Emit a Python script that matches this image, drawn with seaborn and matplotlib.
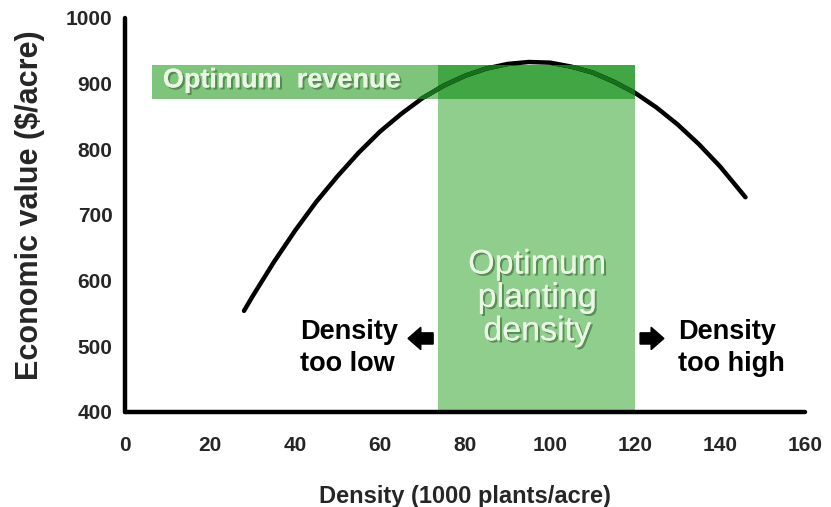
import matplotlib
matplotlib.use("Agg")
import matplotlib.pyplot as plt
import matplotlib.patheffects as pe
import seaborn as sns
import pandas as pd
from matplotlib.patches import Rectangle, FancyArrow

# Economic value response to planting density
density = [28, 30, 35, 40, 45, 50, 55, 60, 65, 70, 75, 80, 85, 90, 95,
           100, 105, 110, 115, 120, 125, 130, 135, 140, 146]
value = [554, 576, 628, 676, 720, 759, 795, 827, 854, 878, 897, 912, 923, 930, 933,
         932, 926, 917, 903, 886, 864, 838, 808, 774, 727]

x_ticks = [0, 20, 40, 60, 80, 100, 120, 140, 160]
y_ticks = [400, 500, 600, 700, 800, 900, 1000]

optimum_density = [73.6, 120]    # 1000 plants/acre
optimum_revenue = [876, 928]     # $/acre
revenue_band_start = 6.4

df = pd.DataFrame({"density": density, "value": value})

sns.set_style("white")
plt.rcParams["font.family"] = ["Liberation Sans", "DejaVu Sans"]
plt.rcParams["font.weight"] = "bold"

fig = plt.figure(figsize=(8.31, 5.07), dpi=100)
ax = fig.add_axes([0.1504, 0.1874, 0.8183, 0.7771])

light = "#8fce8c"
band = "#7ec47b"
dark = "#43a645"
curve_in_band = "#16701b"

# optimum density column
ax.add_patch(Rectangle((optimum_density[0], y_ticks[0]),
                       optimum_density[1] - optimum_density[0],
                       optimum_revenue[1] - y_ticks[0],
                       facecolor=light, edgecolor="none", zorder=1))
# optimum revenue band
band_left = Rectangle((revenue_band_start, optimum_revenue[0]),
                      optimum_density[0] - revenue_band_start,
                      optimum_revenue[1] - optimum_revenue[0],
                      facecolor=band, edgecolor="none", zorder=1)
band_overlap = Rectangle((optimum_density[0], optimum_revenue[0]),
                         optimum_density[1] - optimum_density[0],
                         optimum_revenue[1] - optimum_revenue[0],
                         facecolor=dark, edgecolor="none", zorder=1)
ax.add_patch(band_left)
ax.add_patch(band_overlap)

sns.lineplot(data=df, x="density", y="value", ax=ax, color="black",
             linewidth=3.2, zorder=3)

# the curve reads green where it passes under the revenue band
clip_rect = Rectangle((revenue_band_start, optimum_revenue[0]),
                      optimum_density[1] - revenue_band_start,
                      optimum_revenue[1] - optimum_revenue[0],
                      transform=ax.transData, facecolor="none", edgecolor="none")
ax.add_patch(clip_rect)
green_line, = ax.plot(df["density"], df["value"], color=curve_in_band,
                      linewidth=3.2, zorder=3.5)
green_line.set_clip_path(clip_rect)

shadow = [pe.withSimplePatchShadow(offset=(1.5, -1.5), shadow_rgbFace="#4f7d4a", alpha=0.8),
          pe.Normal()]
ax.text(8.9, 905, "Optimum  revenue", color="#e9f6e4", fontsize=19.5, fontweight="bold",
        va="center", ha="left", path_effects=shadow, zorder=4)
ax.text(97, 573, "Optimum\nplanting\ndensity", color="#e9f6e4", fontsize=24.5,
        fontweight="medium", ha="center", va="center", linespacing=1.1,
        path_effects=shadow, zorder=4)

ax.text(41.2, 498, "Density\ntoo low", color="black", fontsize=19.5, fontweight="bold",
        ha="left", va="center", linespacing=1.3, zorder=4)
ax.text(130.1, 498, "Density\ntoo high", color="black", fontsize=19.5, fontweight="bold",
        ha="left", va="center", linespacing=1.3, zorder=4)
ax.add_patch(FancyArrow(72.5, 512, -5.9, 0, width=17, head_width=34, head_length=3.0,
                        length_includes_head=True, color="black", zorder=4))
ax.add_patch(FancyArrow(121.2, 512, 5.6, 0, width=17, head_width=34, head_length=3.0,
                        length_includes_head=True, color="black", zorder=4))

ax.set_xlim(0, 160)
ax.set_ylim(400, 1000)
ax.set_xticks(x_ticks)
ax.set_yticks(y_ticks)
ax.tick_params(axis="both", direction="out", length=5, width=3, labelsize=15,
               color="black")
ax.tick_params(axis="x", pad=12)
ax.tick_params(axis="y", pad=4)
for lab in ax.get_xticklabels() + ax.get_yticklabels():
    lab.set_fontweight("bold")

for s in ["top", "right"]:
    ax.spines[s].set_visible(False)
for s in ["left", "bottom"]:
    ax.spines[s].set_linewidth(3.2)
    ax.spines[s].set_color("black")
    ax.spines[s].set_capstyle("round")

ax.set_xlabel("Density (1000 plants/acre)", fontsize=17, fontweight="bold")
ax.set_ylabel("Economic value ($/acre)", fontsize=22, fontweight="bold")
ax.xaxis.set_label_coords(0.5, -0.185)
ax.yaxis.set_label_coords(-0.118, 0.525)

fig.savefig("out.png", dpi=100)
